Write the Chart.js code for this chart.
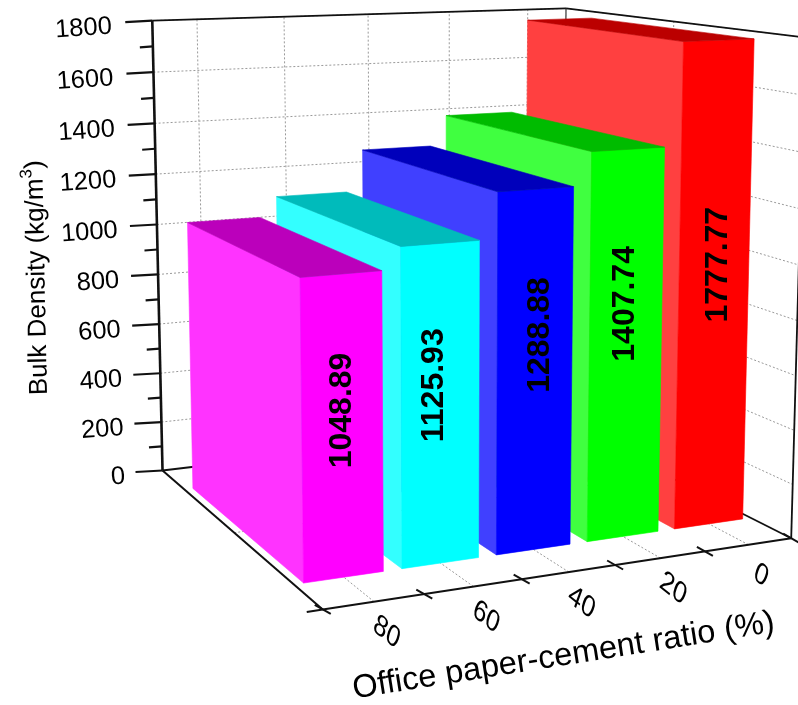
<!DOCTYPE html>
<html>
<head>
<meta charset="utf-8">
<title>Bulk density</title>
<script src="https://cdn.jsdelivr.net/npm/chart.js@4"></script>
<style>
  html, body { margin: 0; padding: 0; background: #fff; }
  canvas { display: block; }
</style>
</head>
<body>
<canvas id="chart-1" width="798" height="705"></canvas>
<script>
const categories = ['80', '60', '40', '20', '0'];
const density = [1048.89, 1125.93, 1288.88, 1407.74, 1777.77];
const valueTicks = [0, 200, 400, 600, 800, 1000, 1200, 1400, 1600, 1800];
const minorTicks = [100, 300, 500, 700, 900, 1100, 1300, 1500, 1700];
const sideColors = ['#ff33ff', '#33ffff', '#4040ff', '#40ff40', '#ff4040'];
const frontColors = ['#ff00ff', '#00ffff', '#0000ff', '#00ff00', '#ff0000'];
const topColors = ['#bb00bb', '#00bbbb', '#0000bb', '#00bb00', '#bb0000'];

const VALUE_MAX = 1800;
const BAR_U = 0.808;
const BAR_V = [0.151, 0.837];

// camera matrix of the box, u: 0..5 along the categories, v: 0..1 in depth, t: 0..1 in height
const CAMERA = [
  [110.6632, -122.2254, -19.1961, 322.7295],
  [-2.7079, -29.0440, -555.9388, 609.4734],
  [0.0214462, 0.2336749, -0.0430126, 1],
];

const project = (u, v, value) => {
  const t = value / VALUE_MAX;
  const [a, b, c] = CAMERA.map((r) => r[0] * u + r[1] * v + r[2] * t + r[3]);
  return { x: a / c, y: b / c };
};

const datasets = [];

const addLine = (points, color, width, dash) => {
  datasets.push({
    data: points,
    showLine: true,
    borderColor: color,
    borderWidth: width,
    borderDash: dash || [],
    pointRadius: 0,
    fill: false,
  });
};

const addFace = (points, color) => {
  datasets.push({
    data: [...points, points[0]],
    showLine: true,
    borderColor: color,
    borderWidth: 0.6,
    backgroundColor: color,
    pointRadius: 0,
    fill: 'shape',
  });
};

const shifted = (p, dx, dy) => ({ x: p.x + dx, y: p.y + dy });

const addWallsAndFloor = () => {
  const n = categories.length;
  const dots = [2, 2];
  const grid = '#999999';
  valueTicks.slice(1).forEach((val) => {
    addLine([project(0, 1, val), project(n, 1, val)], grid, 1, dots);
    addLine([project(n, 1, val), project(n, 0, val)], grid, 1, dots);
  });
  categories.forEach((c, i) => {
    addLine([project(i + 0.5, 1, 0), project(i + 0.5, 1, VALUE_MAX)], grid, 1, dots);
    addLine([project(i + 0.5, 0, 0), project(i + 0.5, 1, 0)], grid, 1, dots);
  });
  addLine([project(n, 0.5, 0), project(n, 0.5, VALUE_MAX)], grid, 1, dots);
  addLine([project(0, 0.5, 0), project(n, 0.5, 0)], grid, 1, dots);

  // box edges
  addLine([project(0, 1, VALUE_MAX), project(n, 1, VALUE_MAX)], '#111', 1.8);
  addLine([project(n, 1, VALUE_MAX), project(n, 0, VALUE_MAX)], '#111', 1.8);
  addLine([project(n, 1, 0), project(n, 1, VALUE_MAX)], '#333', 1.2);
  addLine([project(n, 0, 0), project(n, 0, VALUE_MAX)], '#111', 1.8);
  addLine([project(0, 1, 0), project(n, 1, 0)], '#111', 1.8);
  addLine([project(n, 1, 0), project(n, 0, 0)], '#111', 1.8);
  addLine([project(0, 0, 0), project(n, 0, 0)], '#111', 2);
  addLine([project(0, 0, 0), project(0, 1, 0)], '#111', 2);
  addLine([project(0, 1, 0), project(0, 1, VALUE_MAX)], '#111', 2.6);

  // value axis ticks
  valueTicks.forEach((val) => {
    const p = project(0, 1, val);
    addLine([p, shifted(p, -27, 1.5)], '#111', 2.2);
  });
  minorTicks.forEach((val) => {
    const p = project(0, 1, val);
    addLine([p, shifted(p, -13, 1)], '#111', 2.2);
  });

  // category axis ticks sit on the band edges
  for (let i = 0; i <= n; i++) {
    const p = project(i, 0, 0);
    addLine([shifted(p, -8, -4.5), shifted(p, 8, 4.5)], '#111', 2);
  }
  const corner = project(0, 0, 0);
  addLine([corner, shifted(corner, -16, 2.5)], '#111', 2);
};

const addBar = (i) => {
  const u0 = i + 0.5 - BAR_U / 2;
  const u1 = i + 0.5 + BAR_U / 2;
  const [v0, v1] = BAR_V;
  const val = density[i];
  addFace([project(u0, v0, 0), project(u0, v1, 0), project(u0, v1, val), project(u0, v0, val)], sideColors[i]);
  addFace([project(u0, v0, 0), project(u1, v0, 0), project(u1, v0, val), project(u0, v0, val)], frontColors[i]);
  addFace([project(u0, v0, val), project(u1, v0, val), project(u1, v1, val), project(u0, v1, val)], topColors[i]);
};

addWallsAndFloor();
for (let i = categories.length - 1; i >= 0; i--) addBar(i);
// chart.js paints the first dataset last
datasets.reverse();

// value label nudges from the middle of the front face
const labelShiftX = [8.5, 3, 14, 8, 13];
const labelLift = [17, 20, 37, 42, 22];

const drawText = (ctx, str, x, y, angle, font, align) => {
  ctx.save();
  ctx.translate(x, y);
  ctx.rotate((angle * Math.PI) / 180);
  ctx.font = font;
  ctx.textAlign = align || 'center';
  ctx.textBaseline = 'alphabetic';
  ctx.fillStyle = '#000';
  ctx.fillText(str, 0, 0);
  ctx.restore();
};

// category numbers lie in the floor plane, so their baseline and stems are skewed
const drawFloorText = (ctx, str, x, y) => {
  ctx.save();
  ctx.translate(x, y);
  ctx.transform(0.788, 0.616, -0.34, 0.94, 0, 0);
  ctx.font = '28px "Liberation Sans"';
  ctx.textAlign = 'center';
  ctx.fillStyle = '#000';
  ctx.fillText(str, 0, 0);
  ctx.restore();
};

const textPlugin = {
  id: 'axisText',
  afterDatasetsDraw(chart) {
    const { ctx, scales } = chart;
    const px = (p) => [scales.x.getPixelForValue(p.x), scales.y.getPixelForValue(p.y)];

    valueTicks.forEach((val) => {
      const [x, y] = px(project(0, 1, val));
      drawText(ctx, String(val), x - 37 - 3 * (val / VALUE_MAX), y + 13, -4, '25.5px "Liberation Sans"', 'right');
    });

    categories.forEach((c, i) => {
      const [x, y] = px(project(i + 0.5, 0, 0));
      drawFloorText(ctx, c, x + 10, y + 38);
    });

    density.forEach((val, i) => {
      const [x, y] = px(project(i + 0.5, BAR_V[0], val / 2));
      drawText(ctx, val.toFixed(2), x + labelShiftX[i], y - labelLift[i], -90, 'bold 32px "Liberation Sans"');
    });

    // y title, with the exponent raised by hand
    ctx.save();
    ctx.translate(47, 395);
    ctx.rotate((-91.2 * Math.PI) / 180);
    ctx.fillStyle = '#000';
    ctx.font = '26px "Liberation Sans"';
    const head = 'Bulk Density (kg/m';
    ctx.fillText(head, 0, 0);
    let w = ctx.measureText(head).width;
    ctx.font = '17px "Liberation Sans"';
    ctx.fillText('3', w, -11);
    w += ctx.measureText('3').width;
    ctx.font = '26px "Liberation Sans"';
    ctx.fillText(')', w, 0);
    ctx.restore();

    drawText(ctx, 'Office paper-cement ratio (%)', 565, 665, -9, '32.6px "Liberation Sans"');
  },
};

new Chart(document.getElementById('chart-1'), {
  type: 'scatter',
  data: { datasets },
  options: {
    responsive: false,
    animation: false,
    layout: { padding: 0 },
    scales: {
      x: { type: 'linear', min: 0, max: 798, display: false },
      y: { type: 'linear', min: 0, max: 705, reverse: true, display: false },
    },
    plugins: {
      legend: { display: false },
      tooltip: { enabled: false },
    },
  },
  plugins: [textPlugin],
});
</script>
</body>
</html>
